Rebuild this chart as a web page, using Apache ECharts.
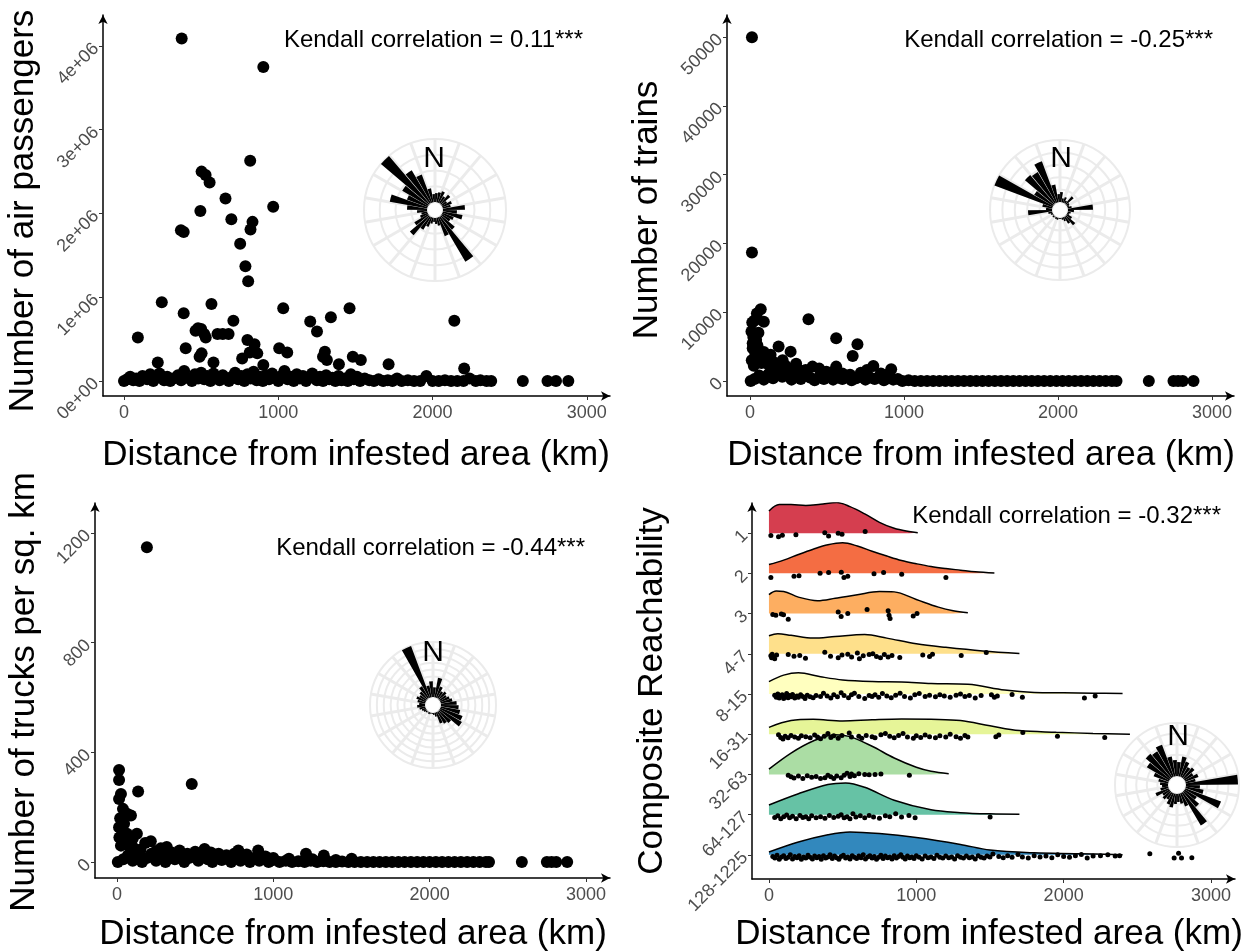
<!DOCTYPE html>
<html lang="en">
<head>
<meta charset="UTF-8">
<title>Reachability vs distance</title>
<script src="https://cdn.jsdelivr.net/npm/echarts@6/dist/echarts.min.js"></script>
<style>body{margin:0;background:#fff}</style>
</head>
<body>
<div id="main" style="width:1241px;height:952px"></div>
<script>
// ---- data ----
var xTicks = [0, 1000, 2000, 3000];
var airTicks = [0, 1e6, 2e6, 3e6, 4e6];
var trainTicks = [0, 10000, 20000, 30000, 40000, 50000];
var truckTicks = [0, 400, 800, 1200];
var reachCats = ['128-1225', '64-127', '32-63', '16-31', '8-15', '4-7', '3', '2', '1'];
var reachColors = ['#3288BD', '#66C2A5', '#ABDDA4', '#E6F598', '#FFFFBF', '#FEE08B', '#FDAE61', '#F46D43', '#D53E4F'];

// air passengers: [distance km, passengers]
var airOutliers = [[374,4090000],[903,3750000],[818,2630000],[503,2500000],[529,2460000],[555,2370000],[658,2180000],
  [967,2080000],[495,2030000],[696,1930000],[833,1900000],[820,1810000],[369,1800000],[387,1780000],[753,1640000],
  [787,1370000],[805,1190000],[245,940000],[567,920000],[1032,870000],[1462,870000],[1341,760000],[1207,710000],
  [2141,720000],[387,810000],[709,720000],[90,520000],[464,600000],[480,630000],[500,620000],[520,560000],[530,520000],
  [606,560000],[640,560000],[678,560000],[1251,590000],[800,490000],[846,440000],[400,390000],[1006,390000],[1058,340000],
  [1302,350000],[1290,290000],[1315,250000],[503,330000],[490,290000],[766,270000],[815,340000],[864,330000],[580,220000],
  [219,220000],[1483,290000],[1535,250000],[1393,200000],[1715,200000],[2205,150000],[903,190000]];
var airBand = [[0,0],[20,20000],[40,50000],[60,10000],[80,30000],[100,0],[120,60000],[150,20000],[170,80000],[190,0],
  [210,40000],[230,90000],[260,10000],[280,50000],[300,0],[320,30000],[350,70000],[370,10000],[390,120000],[410,40000],
  [440,0],[460,80000],[480,30000],[500,100000],[520,20000],[540,60000],[560,0],[580,90000],[600,40000],[620,10000],
  [640,70000],[660,30000],[680,0],[700,50000],[720,100000],[740,20000],[760,60000],[780,0],[800,80000],[820,30000],
  [840,110000],[860,10000],[880,50000],[900,0],[920,70000],[940,20000],[960,90000],[980,40000],[1000,0],[1020,60000],
  [1040,120000],[1060,20000],[1080,50000],[1100,0],[1120,80000],[1140,30000],[1160,60000],[1180,0],[1200,40000],
  [1220,90000],[1250,10000],[1270,50000],[1290,0],[1310,70000],[1330,20000],[1350,40000],[1370,0],[1390,60000],
  [1410,10000],[1430,30000],[1450,0],[1470,80000],[1490,20000],[1510,50000],[1530,0],[1560,30000],[1590,10000],
  [1620,0],[1650,20000],[1680,0],[1710,10000],[1740,0],[1770,30000],[1800,0],[1840,10000],[1880,0],[1920,0],
  [1960,60000],[2000,0],[2040,0],[2080,10000],[2120,0],[2160,0],[2200,0],[2240,30000],[2280,0],[2310,10000],
  [2350,0],[2380,0],[2585,0],[2745,0],[2800,0],[2880,0]];

// trains: [distance km, trains]
var trainOutliers = [[13,49950],[13,18670],[70,10430],[45,9800],[30,8800],[15,8500],[90,8600],[380,8970],
  [18,5500],[18,4750],[560,6200],[698,5330],[667,3640],[560,2090],[186,5000],[264,4270],[134,3800],[212,3000],
  [406,2090],[362,1600],[801,2180],[917,1700],[496,1360],[10,7200],[22,6400],[40,6000],[55,7000],[12,3000],
  [25,2200],[35,4000],[48,5200],[60,3300],[75,2600],[90,4200],[110,3100],[120,2400],[150,2800],[170,2000],
  [230,2200],[280,1900],[300,2500],[330,1500],[450,1800],[520,1200],[600,1100],[650,900],[720,1200],[760,1600],
  [850,1100],[880,800]];
var trainBand = [[5,0],[30,300],[60,800],[90,200],[120,1000],[150,400],[180,1200],[210,600],[240,900],[270,200],
  [300,700],[330,300],[360,900],[390,500],[420,100],[450,600],[480,300],[510,800],[540,200],[570,500],[600,300],
  [630,700],[660,100],[690,400],[720,600],[750,200],[780,500],[810,300],[840,700],[870,100],[900,400],[930,200],
  [960,300],[990,0],[1030,100],[1070,0],[1110,0],[1150,0],[1190,0],[1230,0],[1270,0],[1310,0],[1350,0],[1390,0],
  [1430,0],[1470,0],[1510,0],[1550,0],[1590,0],[1630,0],[1670,0],[1710,0],[1750,0],[1790,0],[1830,0],[1870,0],
  [1910,0],[1950,0],[1990,0],[2030,0],[2070,0],[2110,0],[2150,0],[2190,0],[2230,0],[2270,0],[2310,0],[2350,0],
  [2380,0],[2590,0],[2750,0],[2780,0],[2810,0],[2880,0]];

// trucks: [distance km, trucks per sq. km]
var truckOutliers = [[191,1148],[478,285],[13,336],[13,299],[25,248],[13,230],[135,257],[38,194],[64,176],[89,170],
  [13,127],[64,103],[127,103],[100,85],[216,76],[318,55],[560,48],[776,42],[903,42],[1209,30],[1323,24],[1501,12],
  [20,160],[30,120],[15,90],[45,140],[25,60],[50,80],[75,60],[110,50],[150,45],[180,70],[250,40],[280,50],[350,35],
  [400,42],[450,30],[500,38],[600,35],[650,30],[700,25],[750,30],[830,28],[950,20],[1000,15],[1100,12],[1250,10],[1400,8]];
var truckBand = [[5,0],[40,10],[70,25],[100,5],[130,20],[160,0],[190,15],[220,30],[250,5],[280,20],[310,0],[340,25],
  [370,10],[400,20],[430,0],[460,15],[490,25],[520,5],[550,20],[580,10],[610,0],[640,22],[670,8],[700,15],[730,0],
  [760,20],[790,5],[820,12],[850,0],[880,15],[910,5],[940,10],[970,0],[1000,8],[1040,0],[1080,5],[1120,0],[1160,3],
  [1200,0],[1240,5],[1280,0],[1320,3],[1360,0],[1400,0],[1440,2],[1480,0],[1520,0],[1560,0],[1600,0],[1640,0],
  [1680,0],[1720,0],[1760,0],[1800,0],[1840,0],[1880,0],[1920,0],[1960,0],[2000,0],[2040,0],[2080,0],[2120,0],
  [2160,0],[2200,0],[2240,0],[2280,0],[2320,0],[2360,0],[2380,0],[2590,0],[2750,0],[2780,0],[2810,0],[2880,0]];

// ridge densities per reachability class: [distance km, ridge height]
var dens128 = [[0,0.07],[200,0.32],[400,0.50],[550,0.57],[750,0.53],[1000,0.43],[1300,0.26],[1500,0.12],[1800,0.05],[2100,0.03],[2400,0.0]];
var dens64 = [[0,0.24],[200,0.52],[400,0.75],[520,0.79],[650,0.68],[850,0.36],[1100,0.12],[1300,0.05],[1500,0.02],[1700,0.01]];
var dens32 = [[0,0.13],[150,0.53],[300,0.83],[450,0.99],[550,0.94],[700,0.70],[850,0.41],[1000,0.18],[1100,0.08],[1220,0.02]];
var dens16 = [[0,0.17],[150,0.34],[300,0.37],[500,0.33],[700,0.36],[900,0.38],[1100,0.37],[1300,0.34],[1500,0.21],[1700,0.09],[1950,0.05],[2200,0.02],[2450,0.0]];
var dens8 = [[0,0.31],[100,0.47],[200,0.53],[350,0.43],[500,0.35],[700,0.31],[900,0.30],[1100,0.26],[1350,0.24],[1600,0.10],[1800,0.04],[2000,0.03],[2200,0.02],[2400,0.01]];
var dens4 = [[0,0.45],[60,0.50],[150,0.46],[300,0.39],[450,0.43],[650,0.48],[800,0.39],[1000,0.25],[1200,0.16],[1450,0.07],[1700,0.01]];
var dens3 = [[0,0.47],[50,0.56],[100,0.55],[200,0.41],[330,0.32],[450,0.38],[600,0.47],[750,0.55],[850,0.54],[1000,0.35],[1150,0.16],[1250,0.07],[1350,0.02]];
var dens2 = [[0,0.22],[100,0.33],[200,0.47],[300,0.60],[400,0.71],[500,0.76],[600,0.68],[700,0.55],[800,0.43],[900,0.32],[1000,0.24],[1100,0.17],[1200,0.12],[1300,0.08],[1400,0.04],[1530,0.01]];
var dens1 = [[0,0.55],[70,0.71],[150,0.71],[250,0.69],[350,0.72],[460,0.76],[550,0.66],[650,0.48],[750,0.27],[850,0.12],[950,0.04],[1010,0.01]];

// jittered points per class: [distance km, vertical jitter]
var pts128 = [[26,-0.04],[40,-0.08],[55,-0.01],[70,-0.11],[85,-0.05],[100,-0.02],[115,-0.09],[130,-0.06],[145,0.0],[160,-0.1],
  [175,-0.04],[190,-0.07],[205,-0.02],[220,-0.11],[235,-0.05],[250,-0.08],[265,-0.01],[280,-0.06],[295,-0.1],[310,-0.03],
  [325,-0.07],[340,-0.04],[355,-0.11],[370,-0.02],[385,-0.08],[400,-0.05],[415,0.0],[430,-0.09],[445,-0.03],[460,-0.07],
  [475,-0.11],[490,-0.04],[505,-0.01],[520,-0.08],[535,-0.05],[550,-0.1],[565,-0.02],[580,-0.06],[595,-0.09],[610,-0.03],
  [625,-0.07],[640,0.0],[655,-0.1],[670,-0.05],[685,-0.02],[700,-0.08],[715,-0.04],[730,-0.11],[745,-0.06],[760,-0.01],
  [775,-0.09],[790,-0.03],[805,-0.07],[820,-0.05],[835,-0.1],[850,-0.02],[865,-0.08],[880,-0.04],[895,0.0],[910,-0.06],
  [925,-0.1],[940,-0.03],[955,-0.07],[970,-0.05],[985,-0.09],[1000,-0.02],[1020,-0.06],[1040,-0.1],[1060,-0.03],[1080,-0.07],
  [1100,-0.05],[1120,-0.09],[1140,-0.01],[1160,-0.06],[1180,-0.08],[1200,-0.03],[1220,-0.07],[1240,-0.05],[1260,-0.1],
  [1280,-0.02],[1300,-0.06],[1320,-0.08],[1340,-0.03],[1360,-0.07],[1380,-0.05],[1400,-0.1],[1420,-0.02],[1440,-0.06],
  [1460,-0.08],[1480,-0.03],[1500,-0.05],[1520,0.02],[1560,-0.04],[1590,-0.07],[1620,-0.02],[1650,-0.06],[1690,0.01],
  [1720,-0.05],[1760,-0.08],[1800,-0.02],[1840,-0.05],[1880,-0.03],[1920,-0.07],[1960,0.0],[2000,-0.04],[2040,-0.06],
  [2080,-0.02],[2120,0.01],[2160,-0.08],[2200,-0.03],[2250,-0.02],[2300,0.0],[2350,-0.03],[2380,-0.02],[2585,0.03],
  [2750,-0.08],[2780,0.04],[2800,-0.08],[2870,-0.07]];
var pts64 = [[39,-0.07],[60,-0.03],[80,-0.1],[100,-0.05],[120,-0.01],[140,-0.08],[160,-0.04],[185,-0.1],[210,-0.02],
  [230,-0.07],[250,-0.05],[270,-0.1],[290,-0.03],[320,-0.08],[350,-0.05],[380,-0.09],[410,-0.02],[440,-0.07],[470,-0.04],
  [490,0.0],[510,-0.08],[530,-0.05],[550,-0.1],[570,0.02],[590,-0.06],[620,-0.03],[650,-0.08],[680,-0.02],[710,-0.06],
  [750,-0.09],[790,-0.03],[820,-0.05],[860,0.02],[900,-0.06],[950,-0.02],[992,-0.08],[1501,-0.06]];
var pts32 = [[131,-0.02],[150,-0.06],[170,-0.09],[200,-0.04],[230,-0.1],[260,-0.03],[290,-0.07],[320,-0.05],[350,-0.1],
  [380,-0.08],[400,-0.02],[420,-0.06],[440,-0.1],[460,-0.04],[490,-0.08],[510,-0.02],[530,0.03],[550,-0.05],[560,0.01],
  [580,-0.03],[610,0.02],[650,0.0],[680,-0.01],[720,0.0],[760,0.01],[953,-0.02]];
var pts16 = [[65,-0.01],[80,-0.08],[95,-0.12],[110,-0.05],[130,-0.09],[150,-0.03],[175,-0.07],[200,-0.1],[220,-0.04],
  [250,-0.06],[280,-0.09],[310,-0.02],[330,-0.07],[350,-0.11],[375,-0.05],[400,0.02],[420,-0.08],[440,-0.04],[470,-0.1],
  [495,-0.03],[545,0.03],[560,-0.07],[610,-0.05],[630,-0.1],[660,-0.03],[700,-0.06],[720,-0.09],[760,-0.01],[790,0.02],
  [820,-0.05],[850,-0.09],[880,-0.03],[910,0.02],[940,-0.07],[980,-0.1],[1000,-0.04],[1030,-0.08],[1060,-0.02],[1090,-0.06],
  [1130,-0.09],[1160,-0.04],[1200,-0.07],[1230,0.0],[1270,-0.06],[1300,-0.1],[1330,-0.03],[1350,-0.07],[1540,-0.06],
  [1560,-0.02],[1723,0.04],[1958,-0.05],[2279,-0.08]];
var pts8 = [[39,-0.03],[50,-0.08],[60,0.0],[70,-0.1],[80,-0.05],[90,-0.02],[100,-0.11],[110,-0.06],[120,0.01],[130,-0.09],
  [140,-0.04],[150,-0.07],[160,-0.01],[175,-0.1],[190,-0.05],[200,-0.08],[215,-0.02],[230,-0.06],[245,-0.11],[260,-0.03],
  [280,-0.07],[300,-0.09],[320,-0.04],[350,-0.06],[370,0.02],[395,-0.05],[420,-0.1],[440,-0.02],[465,-0.07],[490,0.03],
  [510,-0.04],[540,-0.09],[560,-0.02],[580,0.02],[610,-0.06],[650,-0.11],[680,-0.04],[700,-0.06],[720,-0.02],[745,-0.08],
  [770,0.01],[800,-0.05],[830,-0.09],[860,-0.03],[890,0.02],[920,-0.06],[960,-0.1],[990,-0.02],[1020,0.01],[1060,-0.06],
  [1090,-0.03],[1130,-0.07],[1160,-0.02],[1190,-0.05],[1230,-0.08],[1270,-0.03],[1300,0.0],[1330,-0.06],[1360,-0.04],
  [1400,-0.1],[1440,-0.04],[1510,-0.02],[1530,-0.08],[1550,-0.05],[1650,-0.01],[1720,-0.08],[2141,-0.1],[2214,-0.05]];
var pts4 = [[13,-0.05],[18,-0.1],[22,-0.01],[30,-0.08],[39,-0.12],[52,-0.03],[131,-0.02],[170,-0.06],[209,-0.04],[248,-0.11],
  [379,0.04],[418,-0.06],[470,-0.1],[496,-0.03],[535,-0.01],[561,-0.08],[600,0.02],[614,-0.12],[640,-0.05],[680,-0.02],
  [705,0.0],[730,-0.07],[757,-0.1],[783,-0.02],[809,-0.08],[835,-0.04],[888,-0.09],[1044,-0.03],[1090,-0.07],[1110,-0.01],
  [1305,-0.04],[1475,0.03]];
var pts3 = [[26,-0.02],[47,-0.04],[84,-0.01],[99,-0.03],[131,-0.14],[470,0.04],[490,-0.07],[535,0.0],[666,0.1],[809,0.07],
  [815,-0.04],[822,-0.12],[979,-0.06],[1005,0.0]];
var pts2 = [[13,-0.1],[170,-0.07],[204,-0.06],[347,0.0],[405,0.02],[491,0.03],[509,-0.1],[535,-0.07],[713,-0.01],[778,0.02],
  [901,-0.02],[1201,-0.1]];
var pts1 = [[13,-0.06],[65,-0.09],[91,-0.05],[183,-0.04],[379,0.01],[405,-0.07],[470,0.0],[496,-0.03],[653,0.04]];

// direction roses: 36 bins of 10 degrees, clockwise from north
var roseAir = [9,10,12,8,12,6,10,8,22,14,20,12,10,18,52,20,8,6,4,6,10,15,25,16,8,6,10,20,38,22,30,64,38,30,14,8];
var roseTrain = [10,4,6,3,10,3,2,4,25,6,3,2,6,12,8,4,2,1,1,2,2,1,2,1,2,4,24,6,10,62,22,38,36,44,18,8];
var roseTruck = [10,20,12,8,10,8,10,12,16,18,20,24,26,16,14,12,4,2,1,1,2,1,2,3,4,6,8,6,8,10,8,10,14,56,12,16];
var roseReach = [14,20,16,12,14,10,14,10,52,14,18,38,14,20,38,14,10,8,10,14,12,8,10,8,14,8,6,8,10,16,26,32,30,34,20,16];

// ---- chart ----
var myChart = echarts.init(document.getElementById('main'));
var font = 'Liberation Sans, Arial, sans-serif';
var binNames = [];
for (var b = 0; b < 36; b++) binNames.push(String(b * 10));

function plain(v) { return String(v); }

function xAxisFor(gi, min, max) {
    return {
        type: 'value', gridIndex: gi, min: min, max: max,
        splitLine: {show: false},
        axisLine: {show: true, onZero: false, symbol: ['none', 'arrow'], symbolSize: [7, 9], lineStyle: {color: '#000', width: 1.5}},
        axisTick: {show: true, length: 4, customValues: xTicks, lineStyle: {color: '#333'}},
        axisLabel: {customValues: xTicks, color: '#4d4d4d', fontSize: 18, fontFamily: font, margin: 8, formatter: plain}
    };
}
function yAxisFor(gi, min, max, ticks, fmt) {
    return {
        type: 'value', gridIndex: gi, min: min, max: max,
        splitLine: {show: false},
        axisLine: {show: true, onZero: false, symbol: ['none', 'arrow'], symbolSize: [7, 9], lineStyle: {color: '#000', width: 1.5}},
        axisTick: {show: true, length: 4, customValues: ticks, lineStyle: {color: '#333'}},
        axisLabel: {customValues: ticks, color: '#4d4d4d', fontSize: 18, fontFamily: font, margin: 7, rotate: 45, formatter: fmt || plain}
    };
}
function scatterSeries(gi, data) {
    return {type: 'scatter', xAxisIndex: gi, yAxisIndex: gi, data: data, symbolSize: 12,
        itemStyle: {color: '#000', opacity: 1}, silent: true};
}
function roseParts(i, center, radius, max, interval, values) {
    return {
        polar: {center: center, radius: radius},
        angle: {polarIndex: i, type: 'category', data: binNames, startAngle: 90, clockwise: true,
            axisLine: {show: false}, axisTick: {show: false}, axisLabel: {show: false},
            splitLine: {show: true, lineStyle: {color: '#ebebeb', width: 3}}},
        radius: {polarIndex: i, type: 'value', min: 0, max: max, interval: interval,
            axisLine: {show: false}, axisTick: {show: false}, axisLabel: {show: false},
            splitLine: {show: true, lineStyle: {color: '#ebebeb', width: 2}}},
        series: {type: 'bar', coordinateSystem: 'polar', polarIndex: i, data: values, barCategoryGap: '8%',
            itemStyle: {color: '#000'}, silent: true, z: 5}
    };
}

var roses = [
    roseParts(0, [435, 210], [8, 71], 63, 15.75, roseAir),
    roseParts(1, [1060, 210], [8, 70], 62, 12.4, roseTrain),
    roseParts(2, [433, 705], [8, 63], 56, 7, roseTruck),
    roseParts(3, [1177, 785], [9, 62], 53, 10.6, roseReach)
];

var densList = [dens128, dens64, dens32, dens16, dens8, dens4, dens3, dens2, dens1];
var ptsList = [pts128, pts64, pts32, pts16, pts8, pts4, pts3, pts2, pts1];

var series = [
    scatterSeries(0, airBand.concat(airOutliers)),
    scatterSeries(1, trainBand.concat(trainOutliers)),
    scatterSeries(2, truckBand.concat(truckOutliers))
];
// ridges: top class first so lower ridges overlap higher ones
for (var k = densList.length - 1; k >= 0; k--) {
    series.push({
        type: 'line', xAxisIndex: 3, yAxisIndex: 3, smooth: 0.35, symbol: 'none', silent: true,
        data: densList[k].map(function (p) { return [p[0], this.base + p[1]]; }, {base: k}),
        lineStyle: {color: '#000', width: 1.5},
        areaStyle: {color: reachColors[k], opacity: 1, origin: k},
        z: 2
    });
}
for (var j = 0; j < ptsList.length; j++) {
    series.push({
        type: 'scatter', xAxisIndex: 3, yAxisIndex: 3, symbolSize: 5, silent: true,
        data: ptsList[j].map(function (p) { return [p[0], this.base + p[1]]; }, {base: j}),
        itemStyle: {color: '#000', opacity: 1}, z: 4
    });
}
roses.forEach(function (r) { series.push(r.series); });

function label(x, y, txt, size, align, rot) {
    return {type: 'text', x: x, y: y, rotation: rot || 0, z: 20,
        style: {text: txt, fontSize: size, fontFamily: font, fill: '#000', align: align || 'center', verticalAlign: 'middle'}};
}

option = {
    animation: false,
    backgroundColor: '#fff',
    grid: [
        {left: 103, top: 15, width: 507, height: 381},
        {left: 727, top: 15, width: 507, height: 381},
        {left: 95, top: 503, width: 515, height: 375},
        {left: 752, top: 503, width: 483, height: 376}
    ],
    xAxis: [
        xAxisFor(0, -136, 3150),
        xAxisFor(1, -149, 3143),
        xAxisFor(2, -141, 3154),
        xAxisFor(3, -115, 3163)
    ],
    yAxis: [
        yAxisFor(0, -179000, 4370000, airTicks, function (v) { return v === 0 ? '0e+00' : (v / 1e6) + 'e+06'; }),
        yAxisFor(1, -2180, 53200, trainTicks),
        yAxisFor(2, -58, 1309, truckTicks),
        yAxisFor(3, -0.6, 8.75, [0, 1, 2, 3, 4, 5, 6, 7, 8], function (v) { return reachCats[Math.round(v)]; })
    ],
    polar: roses.map(function (r) { return r.polar; }),
    angleAxis: roses.map(function (r) { return r.angle; }),
    radiusAxis: roses.map(function (r) { return r.radius; }),
    series: series,
    graphic: [
        label(583, 40, 'Kendall correlation = 0.11***', 24, 'right'),
        label(1213, 40, 'Kendall correlation = -0.25***', 24, 'right'),
        label(585, 548, 'Kendall correlation = -0.44***', 24, 'right'),
        label(1221, 516, 'Kendall correlation = -0.32***', 24, 'right'),
        label(434, 159, 'N', 30),
        label(1061, 159, 'N', 30),
        label(433, 653, 'N', 30),
        label(1178, 737, 'N', 30),
        label(356, 455, 'Distance from infested area (km)', 35),
        label(981, 455, 'Distance from infested area (km)', 35),
        label(353, 934, 'Distance from infested area (km)', 35),
        label(989, 934, 'Distance from infested area (km)', 35),
        label(23, 211, 'Number of air passengers', 35, 'center', Math.PI / 2),
        label(647, 210, 'Number of trains', 35, 'center', Math.PI / 2),
        label(24, 692, 'Number of trucks per sq. km', 35, 'center', Math.PI / 2),
        label(652, 691, 'Composite Reachability', 35, 'center', Math.PI / 2)
    ]
};

myChart.setOption(option);
</script>
</body>
</html>
